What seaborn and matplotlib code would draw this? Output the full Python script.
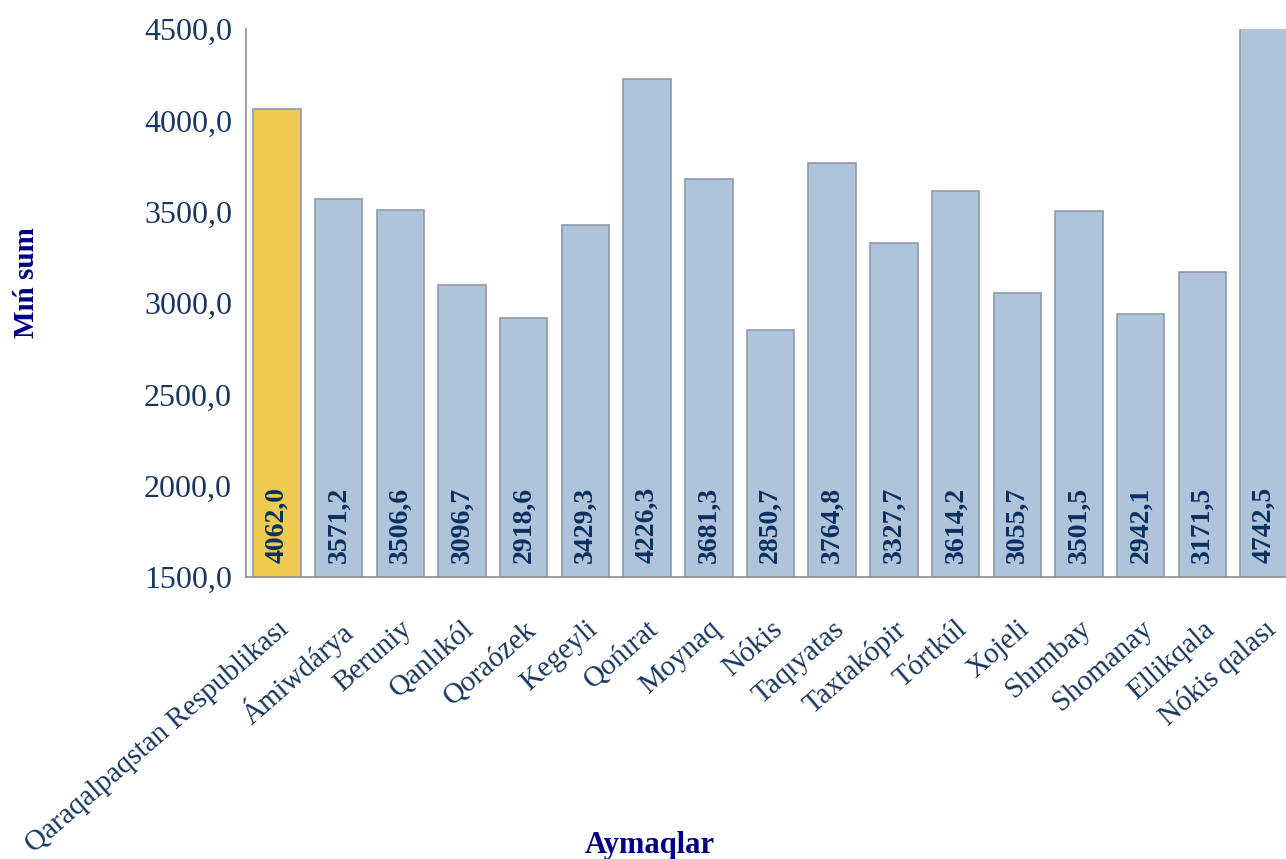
import numpy as np
import pandas as pd
import matplotlib
matplotlib.use('Agg')
import matplotlib.pyplot as plt
import seaborn as sns

# Chart data
regions = [
    'Qaraqalpaqstan Respublikası', 'Ámiwdárya', 'Beruniy', 'Qanlıkól', 'Qoraózek',
    'Kegeyli', 'Qońırat', 'Moynaq', 'Nókis', 'Taqıyatas', 'Taxtakópir', 'Tórtkúl',
    'Xojeli', 'Shımbay', 'Shomanay', 'Ellikqala', 'Nókis qalası'
]
values = [4062.0, 3571.2, 3506.6, 3096.7, 2918.6, 3429.3, 4226.3, 3681.3, 2850.7,
          3764.8, 3327.7, 3614.2, 3055.7, 3501.5, 2942.1, 3171.5, 4742.5]
groups = ['republic'] + ['region'] * (len(regions) - 1)

df = pd.DataFrame({'Region': regions, 'Value': values, 'Group': groups})

sns.set_style('white')
plt.rcParams['font.family'] = ['Liberation Serif', 'DejaVu Serif']

tick_color = '#17375E'
label_color = '#000080'

fig = plt.figure(figsize=(12.86, 8.59), dpi=100)
ax = fig.add_axes([246 / 1286, (859 - 577) / 859, (1295 - 246) / 1286, (577 - 29) / 859])

sns.barplot(data=df, x='Region', y='Value', hue='Group',
            palette={'republic': '#EDCB4E', 'region': '#AFC3DB'},
            saturation=1, dodge=False, legend=False, width=0.77,
            edgecolor='#8E9BAA', linewidth=1.2, ax=ax)

ax.set_ylim(1500, 4500)
ax.set_xlim(-0.5, len(regions) - 0.5)
ax.set_yticks(np.arange(1500, 4501, 500))
ax.set_yticklabels([f'{v:.1f}'.replace('.', ',') for v in np.arange(1500, 4501, 500)],
                   fontsize=23, color=tick_color)

# value labels inside the bars, near the bottom
for i, v in enumerate(values):
    ax.text(i, 1500 + 14 * 3000 / 548, f'{v:.1f}'.replace('.', ','), rotation=90,
            ha='center', va='bottom', fontsize=20, fontweight='bold', color='#0B3060')

# category labels at bar centres, ticks at bar boundaries
ax.set_xticks(range(len(regions)))
ax.set_xticklabels(regions, rotation=41, ha='right', rotation_mode='anchor',
                   fontsize=21, color=tick_color)
ax.tick_params(axis='x', which='major', length=0, pad=28)
ax.set_xticks(np.arange(-0.5, len(regions), 1), minor=True)
ax.tick_params(axis='x', which='minor', length=8, color='#8C8C8C', width=1.2, direction='out')
ax.tick_params(axis='y', length=7, color='#8C8C8C', width=1.2, direction='out', pad=3)

for side in ['top', 'right']:
    ax.spines[side].set_visible(False)
for side in ['left', 'bottom']:
    ax.spines[side].set_color('#8C8C8C')
    ax.spines[side].set_linewidth(1.2)

ax.set_xlabel('')
ax.set_ylabel('')
fig.text(26 / 1286, 1 - 283 / 859, 'Mıń sum', rotation=90, ha='center', va='center',
         fontsize=21, fontweight='bold', color=label_color)
fig.text(650 / 1286, 1 - 845 / 859, 'Aymaqlar', ha='center', va='center',
         fontsize=22, fontweight='bold', color=label_color)

fig.savefig('out.png', dpi=100)
